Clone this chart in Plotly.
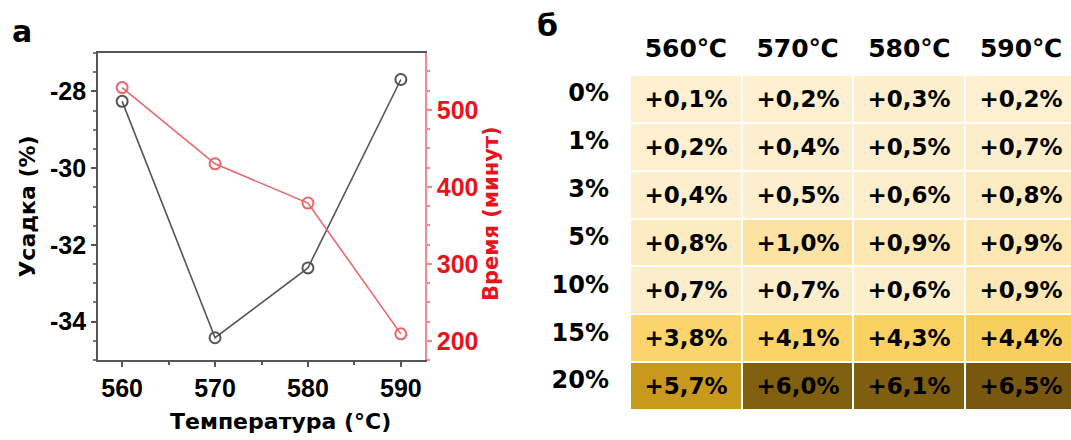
import plotly.graph_objects as go

# ---------------- data ----------------
temps = [560, 570, 580, 590]
shrinkage = [-28.26, -34.42, -32.6, -27.69]
time_min = [529, 430, 379, 209]

shrink_ticks = [-28, -30, -32, -34]
time_ticks = [200, 300, 400, 500]

additives = ["0%", "1%", "3%", "5%", "10%", "15%", "20%"]
temp_labels = ["560℃", "570℃", "580℃", "590℃"]
values = [
    [0.1, 0.2, 0.3, 0.2],
    [0.2, 0.4, 0.5, 0.7],
    [0.4, 0.5, 0.6, 0.8],
    [0.8, 1.0, 0.9, 0.9],
    [0.7, 0.7, 0.6, 0.9],
    [3.8, 4.1, 4.3, 4.4],
    [5.7, 6.0, 6.1, 6.5],
]

W, H = 1071, 440
FONT = "DejaVu Sans"
AFONT = "Liberation Sans"

def xd(a, b):
    return [a / W, min(b / W, 1.0)]

def yd(top, bottom):
    return [1 - bottom / H, 1 - top / H]

fig = go.Figure()

# ---------------- panel a ----------------
fig.add_trace(go.Scatter(
    x=temps, y=shrinkage, mode="lines+markers",
    line=dict(color="#555555", width=1.6),
    marker=dict(symbol="circle-open", size=11, color="#555555", line=dict(width=2)),
    xaxis="x", yaxis="y", showlegend=False))
fig.add_trace(go.Scatter(
    x=temps, y=time_min, mode="lines+markers",
    line=dict(color="#e8676b", width=1.6),
    marker=dict(symbol="circle-open", size=11, color="#e8676b", line=dict(width=2)),
    xaxis="x", yaxis="y2", showlegend=False))

# ---------------- panel б ----------------
text = [["+" + f"{v:.1f}".replace(".", ",") + "%" for v in row] for row in values]
colorscale = [
    [0.0, "#fdefd0"],
    [0.10, "#fdeecb"],
    [0.14, "#fde3a3"],
    [0.55, "#fbd670"],
    [0.66, "#fbd261"],
    [0.875, "#c8991d"],
    [0.92, "#80600f"],
    [1.0, "#785810"],
]
fig.add_trace(go.Heatmap(
    z=values, x=temp_labels, y=additives, text=text,
    texttemplate="%{text}",
    textfont=dict(family=FONT, size=23, color="black", weight="bold"),
    colorscale=colorscale, zmin=0.1, zmax=6.5, showscale=False,
    xgap=2, ygap=2, hoverinfo="skip",
    xaxis="x3", yaxis="y3"))

fig.update_layout(
    width=W, height=H,
    margin=dict(l=0, r=0, t=0, b=0),
    paper_bgcolor="white", plot_bgcolor="white",
    font=dict(family=AFONT, color="black"),
    xaxis=dict(
        domain=xd(98, 425), range=[557.4, 592.6],
        tickvals=temps, ticks="outside", ticklen=5, tickwidth=1.5, tickcolor="#555555",
        minor=dict(dtick=5, tick0=560, ticks="outside", ticklen=3, tickcolor="#555555"),
        showline=True, linecolor="#555555", linewidth=1.6, mirror=True,
        showgrid=False, zeroline=False,
        tickfont=dict(family=AFONT, size=25, weight="bold", color="black"),
        anchor="y",
    ),
    yaxis=dict(
        domain=yd(53, 360), range=[-35, -27],
        tickvals=shrink_ticks, ticktext=[str(v) for v in shrink_ticks],
        ticks="outside", ticklen=5, tickwidth=1.5, tickcolor="#555555",
        minor=dict(dtick=0.5, tick0=-27, ticks="outside", ticklen=3, tickcolor="#777777"),
        showline=True, linecolor="#555555", linewidth=1.6,
        showgrid=False, zeroline=False,
        tickfont=dict(family=AFONT, size=25, weight="bold", color="black"),
        title=dict(text="Усадка (%)", standoff=8,
                   font=dict(family=FONT, size=22, weight="bold", color="black")),
        anchor="x",
    ),
    yaxis2=dict(
        overlaying="y", side="right", anchor="x", range=[175, 574],
        tickvals=time_ticks, ticks="outside", ticklen=5, tickwidth=1.5,
        tickcolor="#f08a8c",
        minor=dict(dtick=25, tick0=200, ticks="outside", ticklen=3, tickcolor="#f08a8c"),
        showline=True, linecolor="#f08a8c", linewidth=1.6,
        showgrid=False, zeroline=False,
        tickfont=dict(family=AFONT, size=25, weight="bold", color="#e8141c"),
    ),
    xaxis3=dict(
        domain=xd(630, 1077), range=[-0.5, 3.5 - 6 / 112], side="top",
        showgrid=False, zeroline=False, showline=False, ticks="",
        ticklabelstandoff=12,
        tickfont=dict(family=FONT, size=25, weight="bold", color="black"),
        anchor="y3",
    ),
    yaxis3=dict(
        domain=yd(75, 410), autorange="reversed",
        showgrid=False, zeroline=False, showline=False, ticks="",
        ticklabelstandoff=20, ticklabelshift=6,
        tickfont=dict(family=FONT, size=24, weight="bold", color="black"),
        anchor="x3",
    ),
    annotations=[
        dict(text="а", x=10 / W, y=1 - 12 / H, xref="paper", yref="paper",
             xanchor="left", yanchor="top", showarrow=False,
             font=dict(family=FONT, size=30, weight="bold", color="black")),
        dict(text="б", x=535 / W, y=1 - 6 / H, xref="paper", yref="paper",
             xanchor="left", yanchor="top", showarrow=False,
             font=dict(family=FONT, size=30, weight="bold", color="black")),
        dict(text="Температура (°C)", x=280 / W, y=1 - 421 / H, xref="paper", yref="paper",
             xanchor="center", yanchor="middle", showarrow=False,
             font=dict(family=FONT, size=22, weight="bold", color="black")),
        dict(text="Время (минут)", x=491 / W, y=1 - 214 / H, xref="paper", yref="paper",
             xanchor="center", yanchor="middle", showarrow=False, textangle=-90,
             font=dict(family=FONT, size=21, weight="bold", color="#e8141c")),
    ],
)

fig.write_html("out.html")
